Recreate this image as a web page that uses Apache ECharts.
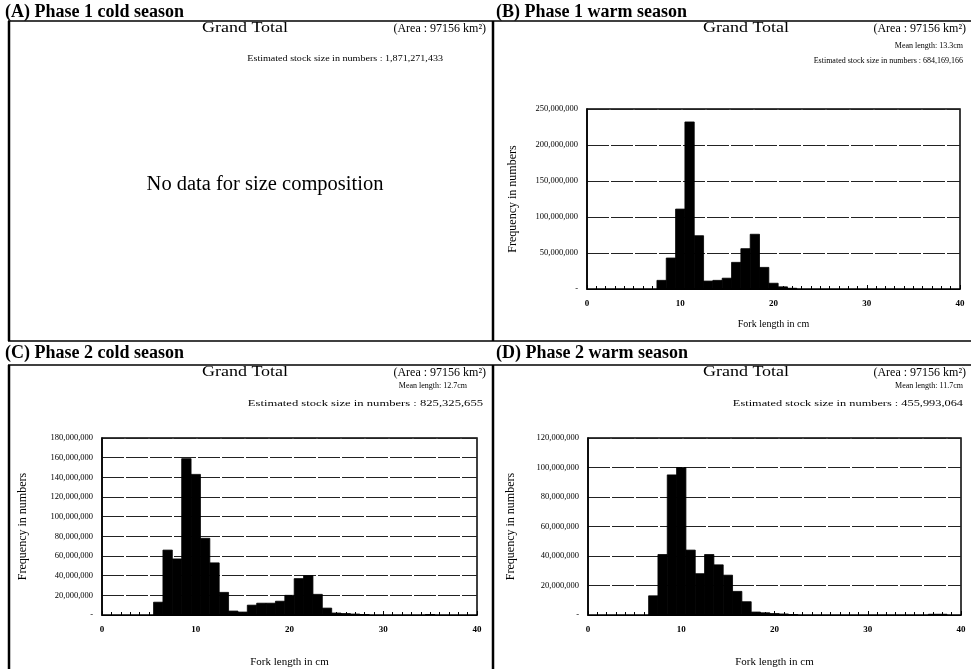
<!DOCTYPE html>
<html>
<head>
<meta charset="utf-8">
<script src="https://cdn.jsdelivr.net/npm/echarts@6/dist/echarts.min.js"></script>
<style>
  html, body { margin: 0; padding: 0; background: #fff; }
  #chart { width: 971px; height: 669px; }
</style>
</head>
<body>
<div id="chart"></div>
<script>
// fork length bins (cm) and frequency in numbers
const lengthB = [8, 9, 10, 11, 12, 13, 14, 15, 16, 17, 18, 19, 20, 21, 22];
const freqB = [12e6, 43e6, 111e6, 232e6, 74e6, 11e6, 12e6, 15e6, 37e6, 56e6, 76e6, 30e6, 8e6, 3e6, 1e6];

const lengthC = [6, 7, 8, 9, 10, 11, 12, 13, 14, 15, 16, 17, 18, 19, 20, 21, 22, 23, 24, 25, 26, 27, 28, 35];
const freqC = [13e6, 66e6, 57e6, 159e6, 143e6, 78e6, 53e6, 23e6, 4e6, 3e6, 10e6, 12e6, 12e6, 14e6, 20e6, 37e6, 40e6, 21e6, 7e6, 2e6, 1.5e6, 1e6, 0.5e6, 0.5e6];

const lengthD = [7, 8, 9, 10, 11, 12, 13, 14, 15, 16, 17, 18, 19, 20, 21, 22, 37, 38];
const freqD = [13e6, 41e6, 95e6, 100e6, 44e6, 28e6, 41e6, 34e6, 27e6, 16e6, 9e6, 2e6, 1.5e6, 1e6, 0.7e6, 0.3e6, 0.5e6, 0.5e6];

const xTicks = [0, 10, 20, 30, 40];
const yMaxB = 250e6, yStepB = 50e6;
const yMaxC = 180e6, yStepC = 20e6;
const yMaxD = 120e6, yStepD = 20e6;

const serif = '"Liberation Serif", "DejaVu Serif", serif';

const chart = echarts.init(document.getElementById('chart'));

function pairs(xs, ys) {
  return xs.map((x, i) => [x, ys[i]]);
}

// one-cm histogram bars drawn through the axis scales
function renderBin(params, api) {
  const x = api.value(0);
  const y = api.value(1);
  const p0 = api.coord([x - 0.5, y]);
  const p1 = api.coord([x + 0.5, 0]);
  return {
    type: 'rect',
    shape: { x: p0[0], y: p0[1], width: p1[0] - p0[0], height: p1[1] - p0[1] },
    style: { fill: '#000', stroke: '#000', lineWidth: 0.8 }
  };
}

function xAxisFor(idx, gap, nameSize) {
  return {
    gridIndex: idx,
    type: 'value',
    min: 0,
    max: 40,
    interval: 10,
    name: 'Fork length in cm',
    nameLocation: 'middle',
    nameGap: gap,
    nameTextStyle: { fontFamily: serif, fontSize: nameSize, color: '#000' },
    axisLine: { lineStyle: { color: '#000', width: 1 } },
    axisTick: { inside: true, length: 4, lineStyle: { color: '#000' } },
    minorTick: { show: true, splitNumber: 10, length: 3, lineStyle: { color: '#000' } },
    splitLine: { show: false },
    axisLabel: {
      fontFamily: serif, fontSize: 9, fontWeight: 'bold', color: '#000', margin: 10,
      formatter: v => xTicks.includes(v) ? String(v) : ''
    }
  };
}

function yAxisFor(idx, max, step, gap) {
  return {
    gridIndex: idx,
    type: 'value',
    min: 0,
    max: max,
    interval: step,
    name: 'Frequency in numbers',
    nameLocation: 'middle',
    nameGap: gap,
    nameTextStyle: { fontFamily: serif, fontSize: 12, color: '#000' },
    axisLine: { show: true, lineStyle: { color: '#000', width: 1.5 } },
    axisTick: { show: false },
    splitLine: { lineStyle: { color: '#222', width: 1, type: [22, 2] } },
    axisLabel: {
      fontFamily: serif, fontSize: 8.5, color: '#000', margin: 9,
      formatter: v => v === 0 ? '-' : v.toLocaleString('en-US')
    }
  };
}

function txt(x, y, text, size, opts, sx) {
  return {
    type: 'text',
    x: x,
    y: y,
    scaleX: sx || 1,
    style: Object.assign({
      text: text,
      fontFamily: serif,
      fontSize: size,
      fill: '#000',
      textAlign: 'left',
      textVerticalAlign: 'middle'
    }, opts || {})
  };
}

function line(x1, y1, x2, y2, w) {
  return {
    type: 'line',
    shape: { x1: x1, y1: y1, x2: x2, y2: y2 },
    style: { stroke: '#000', lineWidth: w || 1 }
  };
}

const R = { textAlign: 'right' };
const C = { textAlign: 'center' };
const B = { fontWeight: 'bold' };

const graphics = [
  // panel frames
  line(8, 21, 971, 21, 1.5),
  line(8, 341, 971, 341, 1.5),
  line(8, 365, 971, 365, 1.5),
  line(9, 21, 9, 341, 2.5),
  line(9, 365, 9, 669, 2.5),
  line(493, 21, 493, 341, 2.5),
  line(493, 365, 493, 669, 2.5),

  // panel headings
  txt(5, 12, '(A) Phase 1 cold season', 18, B),
  txt(496, 12, '(B) Phase 1 warm season', 18, B),
  txt(5, 353, '(C) Phase 2 cold season', 18, B),
  txt(496, 353, '(D) Phase 2 warm season', 18, B),

  // panel A
  txt(245, 28, 'Grand Total', 15, C, 1.2),
  txt(486, 29, '(Area : 97156 km²)', 12, R),
  txt(443, 59, 'Estimated stock size in numbers : 1,871,271,433', 9, R, 1.12),
  txt(265, 185, 'No data for size composition', 20.5, C),

  // panel B
  txt(746, 28, 'Grand Total', 15, C, 1.2),
  txt(966, 29, '(Area : 97156 km²)', 12, R),
  txt(963, 46, 'Mean length: 13.3cm', 8, R),
  txt(963, 61, 'Estimated stock size in numbers : 684,169,166', 8, R),

  // panel C
  txt(245, 372, 'Grand Total', 15, C, 1.2),
  txt(486, 373, '(Area : 97156 km²)', 12, R),
  txt(467, 386, 'Mean length: 12.7cm', 8, R),
  txt(483, 404, 'Estimated stock size in numbers : 825,325,655', 9, R, 1.4),

  // panel D
  txt(746, 372, 'Grand Total', 15, C, 1.2),
  txt(966, 373, '(Area : 97156 km²)', 12, R),
  txt(963, 386, 'Mean length: 11.7cm', 8, R),
  txt(963, 404, 'Estimated stock size in numbers : 455,993,064', 9, R, 1.37)
];

chart.setOption({
  animation: false,
  backgroundColor: '#fff',
  grid: [
    { left: 587, top: 109, width: 373, height: 180, show: true, borderColor: '#000', borderWidth: 1.5, backgroundColor: 'transparent' },
    { left: 102, top: 438, width: 375, height: 178, show: true, borderColor: '#000', borderWidth: 1.5, backgroundColor: 'transparent' },
    { left: 588, top: 438, width: 373, height: 179, show: true, borderColor: '#000', borderWidth: 1.5, backgroundColor: 'transparent' }
  ],
  xAxis: [xAxisFor(0, 30, 10), xAxisFor(1, 42, 11), xAxisFor(2, 42, 11)],
  yAxis: [
    yAxisFor(0, yMaxB, yStepB, 68),
    yAxisFor(1, yMaxC, yStepC, 73),
    yAxisFor(2, yMaxD, yStepD, 71)
  ],
  series: [
    { type: 'custom', xAxisIndex: 0, yAxisIndex: 0, renderItem: renderBin, data: pairs(lengthB, freqB), z: 5 },
    { type: 'custom', xAxisIndex: 1, yAxisIndex: 1, renderItem: renderBin, data: pairs(lengthC, freqC), z: 5 },
    { type: 'custom', xAxisIndex: 2, yAxisIndex: 2, renderItem: renderBin, data: pairs(lengthD, freqD), z: 5 }
  ],
  graphic: graphics
});
</script>
</body>
</html>
